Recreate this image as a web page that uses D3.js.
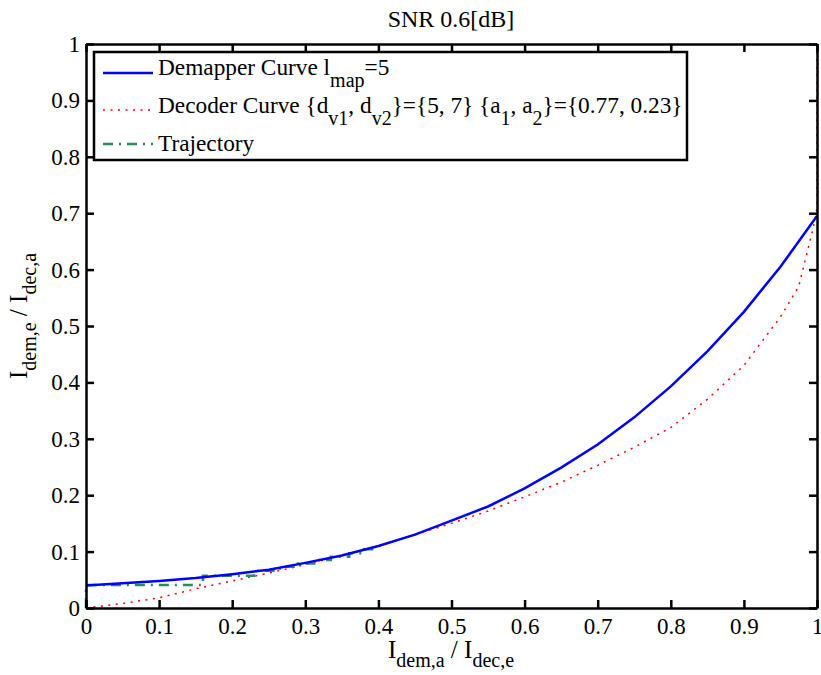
<!DOCTYPE html>
<meta charset="utf-8">
<script src="https://d3js.org/d3.v7.min.js"></script>
<style>
  body { margin: 0; background: #fff; }
  text { font-family: "Liberation Serif", "Times New Roman", serif; fill: #000; }
</style>
<body>
<svg id="chart" width="821" height="675"></svg>
<script>
// EXIT chart values
var demapX = [0, 0.05, 0.1, 0.15, 0.2, 0.25, 0.3, 0.35, 0.4, 0.45, 0.5, 0.55, 0.6, 0.65, 0.7, 0.75, 0.8, 0.85, 0.9, 0.95, 1.0];
var demapY = [0.040, 0.044, 0.048, 0.053, 0.060, 0.068, 0.080, 0.093, 0.110, 0.130, 0.155, 0.180, 0.212, 0.249, 0.290, 0.338, 0.393, 0.455, 0.525, 0.605, 0.695];

var decX = [0, 0.05, 0.1, 0.15, 0.2, 0.25, 0.3, 0.35, 0.4, 0.45, 0.5, 0.55, 0.6, 0.65, 0.7, 0.75, 0.8, 0.85, 0.9, 0.95, 0.975, 0.995, 1.0, 1.0];
var decY = [0, 0.008, 0.018, 0.034, 0.048, 0.062, 0.077, 0.093, 0.110, 0.130, 0.150, 0.172, 0.197, 0.223, 0.253, 0.285, 0.320, 0.370, 0.430, 0.516, 0.570, 0.675, 0.710, 1.0];

var trajX = [0, 0, 0.16, 0.16, 0.23, 0.23, 0.265, 0.265, 0.29, 0.29, 0.315, 0.315, 0.335, 0.335, 0.36, 0.36, 0.38, 0.38, 0.40];
var trajY = [0, 0.041, 0.041, 0.057, 0.057, 0.066, 0.066, 0.073, 0.073, 0.079, 0.079, 0.085, 0.085, 0.091, 0.091, 0.097, 0.097, 0.104, 0.104];

var tickVals = [0, 0.1, 0.2, 0.3, 0.4, 0.5, 0.6, 0.7, 0.8, 0.9, 1];

var svg = d3.select("#chart");
var mLeft = 86, mRight = 817, mTop = 44, mBottom = 608;

var x = d3.scaleLinear().domain([0, 1]).range([mLeft, mRight]);
var y = d3.scaleLinear().domain([0, 1]).range([mBottom, mTop]);

function pts(xs, ys) { return xs.map(function(v, i) { return [v, ys[i]]; }); }
var line = d3.line().x(function(d) { return x(d[0]); }).y(function(d) { return y(d[1]); });

var RED_DASH = "2,5.5", GREEN_DASH = "10,6,2,6";

// curves
var plot = svg.append("g");
plot.append("path").datum(pts(decX, decY)).attr("d", line)
  .attr("fill", "none").attr("stroke", "#ff0000").attr("stroke-width", 1.5)
  .attr("stroke-dasharray", RED_DASH);
plot.append("path").datum(pts(trajX, trajY)).attr("d", line)
  .attr("fill", "none").attr("stroke", "#2e8b57").attr("stroke-width", 2.5)
  .attr("stroke-dasharray", GREEN_DASH);
plot.append("path").datum(pts(demapX, demapY)).attr("d", line)
  .attr("fill", "none").attr("stroke", "#0000ff").attr("stroke-width", 2.5);

// axes (box with inward ticks)
var fmt = function(d) { return d === 0 ? "0" : d === 1 ? "1" : d3.format(".1f")(d); };
var xAxis = svg.append("g").attr("transform", "translate(0," + mBottom + ")")
  .call(d3.axisBottom(x).tickValues(tickVals).tickSizeInner(-8).tickSizeOuter(0).tickFormat(fmt));
var yAxis = svg.append("g").attr("transform", "translate(" + mLeft + ",0)")
  .call(d3.axisLeft(y).tickValues(tickVals).tickSizeInner(-8).tickSizeOuter(0).tickPadding(6).tickFormat(fmt));
var xTop = svg.append("g").attr("transform", "translate(0," + mTop + ")")
  .call(d3.axisTop(x).tickValues(tickVals).tickSizeInner(-8).tickSizeOuter(0).tickFormat(""));
var yRight = svg.append("g").attr("transform", "translate(" + mRight + ",0)")
  .call(d3.axisRight(y).tickValues(tickVals).tickSizeInner(-8).tickSizeOuter(0).tickFormat(""));

[xAxis, yAxis, xTop, yRight].forEach(function(g) {
  g.attr("font-family", null);
  g.selectAll("path.domain").attr("stroke", "#000").attr("stroke-width", 2.5);
  g.selectAll(".tick line").attr("stroke", "#000").attr("stroke-width", 2.5);
  g.selectAll(".tick text").style("font-size", "23px").attr("fill", "#000");
});
xAxis.selectAll(".tick text").attr("y", 26).attr("dy", 0);
yAxis.selectAll(".tick text").attr("dy", "0.33em");

// title
svg.append("text").attr("x", 451).attr("y", 27).attr("text-anchor", "middle")
  .style("font-size", "24px").text("SNR 0.6[dB]");

// axis labels with subscripts
var xl = svg.append("text").attr("x", 451).attr("y", 658).attr("text-anchor", "middle").style("font-size", "25px");
xl.append("tspan").text("I");
xl.append("tspan").attr("dy", 9).style("font-size", "20px").text("dem,a");
xl.append("tspan").attr("dy", -9).text(" / I");
xl.append("tspan").attr("dy", 9).style("font-size", "20px").text("dec,e");

var yl = svg.append("text").attr("transform", "translate(27,316) rotate(-90)")
  .attr("text-anchor", "middle").style("font-size", "25px");
yl.append("tspan").text("I");
yl.append("tspan").attr("dy", 9).style("font-size", "20px").text("dem,e");
yl.append("tspan").attr("dy", -9).text(" / I");
yl.append("tspan").attr("dy", 9).style("font-size", "20px").text("dec,a");

// legend
var lg = svg.append("g");
lg.append("rect").attr("x", 94).attr("y", 52).attr("width", 593).attr("height", 108)
  .attr("fill", "#fff").attr("stroke", "#000").attr("stroke-width", 2.5);

var legendRows = [
  { y: 73, color: "#0000ff", dash: null, width: 2.5 },
  { y: 110, color: "#ff0000", dash: RED_DASH, width: 1.5 },
  { y: 144, color: "#2e8b57", dash: GREEN_DASH, width: 2.5 }
];
legendRows.forEach(function(r) {
  lg.append("line").attr("x1", 103).attr("x2", 153).attr("y1", r.y).attr("y2", r.y)
    .attr("stroke", r.color).attr("stroke-width", r.width)
    .attr("stroke-dasharray", r.dash);
});

var SUB = 12;
var t1 = lg.append("text").attr("x", 158).attr("y", 75).style("font-size", "23.3px");
t1.append("tspan").text("Demapper Curve l");
t1.append("tspan").attr("dy", SUB).style("font-size", "20px").text("map");
t1.append("tspan").attr("dy", -SUB).text("=5");

var t2 = lg.append("text").attr("x", 158).attr("y", 113).style("font-size", "23.3px");
t2.append("tspan").text("Decoder Curve {d");
t2.append("tspan").attr("dy", SUB).style("font-size", "20px").text("v1");
t2.append("tspan").attr("dy", -SUB).text(", d");
t2.append("tspan").attr("dy", SUB).style("font-size", "20px").text("v2");
t2.append("tspan").attr("dy", -SUB).text("}={5, 7} {a");
t2.append("tspan").attr("dy", SUB).style("font-size", "20px").text("1");
t2.append("tspan").attr("dy", -SUB).text(", a");
t2.append("tspan").attr("dy", SUB).style("font-size", "20px").text("2");
t2.append("tspan").attr("dy", -SUB).text("}={0.77, 0.23}");

lg.append("text").attr("x", 158).attr("y", 151).style("font-size", "23.3px").text("Trajectory");
</script>
</body>
